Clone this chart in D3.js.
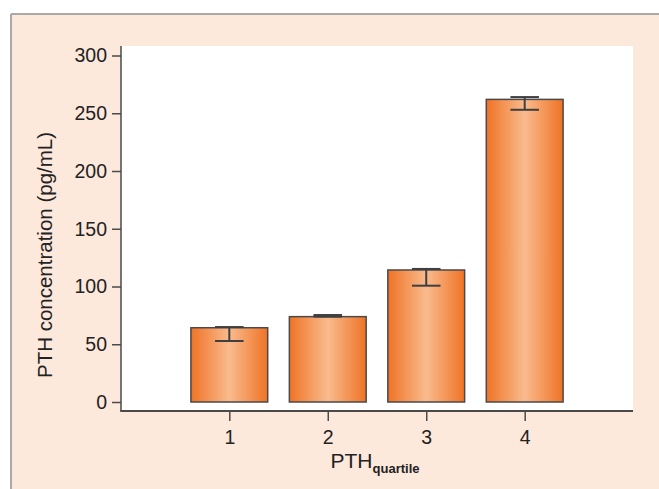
<!DOCTYPE html>
<html>
<head>
<meta charset="utf-8">
<script src="https://cdn.jsdelivr.net/npm/d3@7"></script>
<style>
  html, body { margin: 0; padding: 0; background: #fff; }
  svg { display: block; }
</style>
</head>
<body>
<svg id="chart" width="659" height="489"></svg>
<script>
// ---- data ----
const categories = [1, 2, 3, 4];
const means = [64.3, 73.9, 114.3, 262];
const upperErr = [64.9, 75.3, 115.2, 264];
const lowerErr = [52.8, 73.9, 100.7, 253];
const yTicks = [0, 50, 100, 150, 200, 250, 300];
const xTicks = [1, 2, 3, 4];

const svg = d3.select("#chart");
const W = 659, H = 489;

// background frame
svg.append("rect").attr("x", 0).attr("y", 0).attr("width", W).attr("height", H).attr("fill", "#ffffff");
svg.append("rect").attr("x", 11).attr("y", 14).attr("width", W - 11).attr("height", H - 14).attr("fill", "#fde8dc");
svg.append("line").attr("x1", 11).attr("x2", W).attr("y1", 14).attr("y2", 14).attr("stroke", "#a9a9a9").attr("stroke-width", 2);
svg.append("line").attr("x1", 11).attr("x2", 11).attr("y1", 14).attr("y2", H).attr("stroke", "#a9a9a9").attr("stroke-width", 2);

// plot region
const plotL = 121, plotR = 633, plotT = 46, plotB = 411;
svg.append("rect").attr("x", plotL).attr("y", plotT).attr("width", plotR - plotL).attr("height", plotB - plotT).attr("fill", "#ffffff");

const y = d3.scaleLinear().domain([0, 300]).range([402, 55.5]);
const x = d3.scaleLinear().domain([-0.1, 5.1]).range([plotL, plotR]);

// gradient
const defs = svg.append("defs");
const grad = defs.append("linearGradient").attr("id", "barGrad").attr("x1", "0%").attr("x2", "100%").attr("y1", "0%").attr("y2", "0%");
grad.append("stop").attr("offset", "0%").attr("stop-color", "#ef7325");
grad.append("stop").attr("offset", "50%").attr("stop-color", "#f9bb8e");
grad.append("stop").attr("offset", "100%").attr("stop-color", "#ef7325");

const barHalf = 0.39;
const capHalf = 0.145;

// bars
svg.append("g").selectAll("rect").data(categories).join("rect")
  .attr("x", (d) => x(d - barHalf))
  .attr("width", (d) => x(d + barHalf) - x(d - barHalf))
  .attr("y", (d, i) => y(means[i]))
  .attr("height", (d, i) => y(0) - y(means[i]))
  .attr("fill", "url(#barGrad)")
  .attr("stroke", "#4a4a4a")
  .attr("stroke-width", 1.5);

// error bars
const eg = svg.append("g").attr("stroke", "#3f3f3f").attr("stroke-width", 2);
categories.forEach((d, i) => {
  eg.append("line").attr("x1", x(d)).attr("x2", x(d)).attr("y1", y(upperErr[i])).attr("y2", y(lowerErr[i]));
  eg.append("line").attr("x1", x(d - capHalf)).attr("x2", x(d + capHalf)).attr("y1", y(upperErr[i])).attr("y2", y(upperErr[i]));
  eg.append("line").attr("x1", x(d - capHalf)).attr("x2", x(d + capHalf)).attr("y1", y(lowerErr[i])).attr("y2", y(lowerErr[i]));
});

const axisColor = "#4a4a4a";
const fontFam = "'Liberation Sans', Arial, Helvetica, sans-serif";

// y axis
const yAxis = svg.append("g").attr("transform", `translate(${plotL},0)`)
  .call(d3.axisLeft(y).tickValues(yTicks).tickSize(9).tickPadding(5).tickFormat(d3.format("d")));
yAxis.select(".domain").remove();
yAxis.selectAll(".tick line").attr("stroke", axisColor).attr("stroke-width", 1.5);
yAxis.selectAll(".tick text").attr("fill", "#222").style("font-family", fontFam).style("font-size", "19.5px");
yAxis.append("line").attr("x1", 0).attr("x2", 0).attr("y1", plotT).attr("y2", plotB).attr("stroke", axisColor).attr("stroke-width", 1.5);

// x axis
const xAxis = svg.append("g").attr("transform", `translate(0,${plotB})`)
  .call(d3.axisBottom(x).tickValues(xTicks).tickSize(10).tickPadding(9).tickFormat(d3.format("d")));
xAxis.select(".domain").remove();
xAxis.selectAll(".tick line").attr("stroke", axisColor).attr("stroke-width", 1.5);
xAxis.selectAll(".tick text").attr("fill", "#222").style("font-family", fontFam).style("font-size", "19.5px");
xAxis.append("line").attr("x1", plotL - 0.75).attr("x2", plotR).attr("y1", 0).attr("y2", 0).attr("stroke", axisColor).attr("stroke-width", 2);

// y title
svg.append("text")
  .attr("transform", "translate(52,255) rotate(-90)")
  .attr("text-anchor", "middle")
  .attr("fill", "#222")
  .style("font-family", fontFam)
  .style("font-size", "20.5px")
  .text("PTH concentration (pg/mL)");

// x title with subscript
const xt = svg.append("text")
  .attr("x", 375).attr("y", 468)
  .attr("text-anchor", "middle")
  .attr("fill", "#222")
  .style("font-family", fontFam);
xt.append("tspan").style("font-size", "21px").text("PTH");
xt.append("tspan").attr("dy", 5).style("font-size", "13px").style("font-weight", "bold").text("quartile");
</script>
</body>
</html>
